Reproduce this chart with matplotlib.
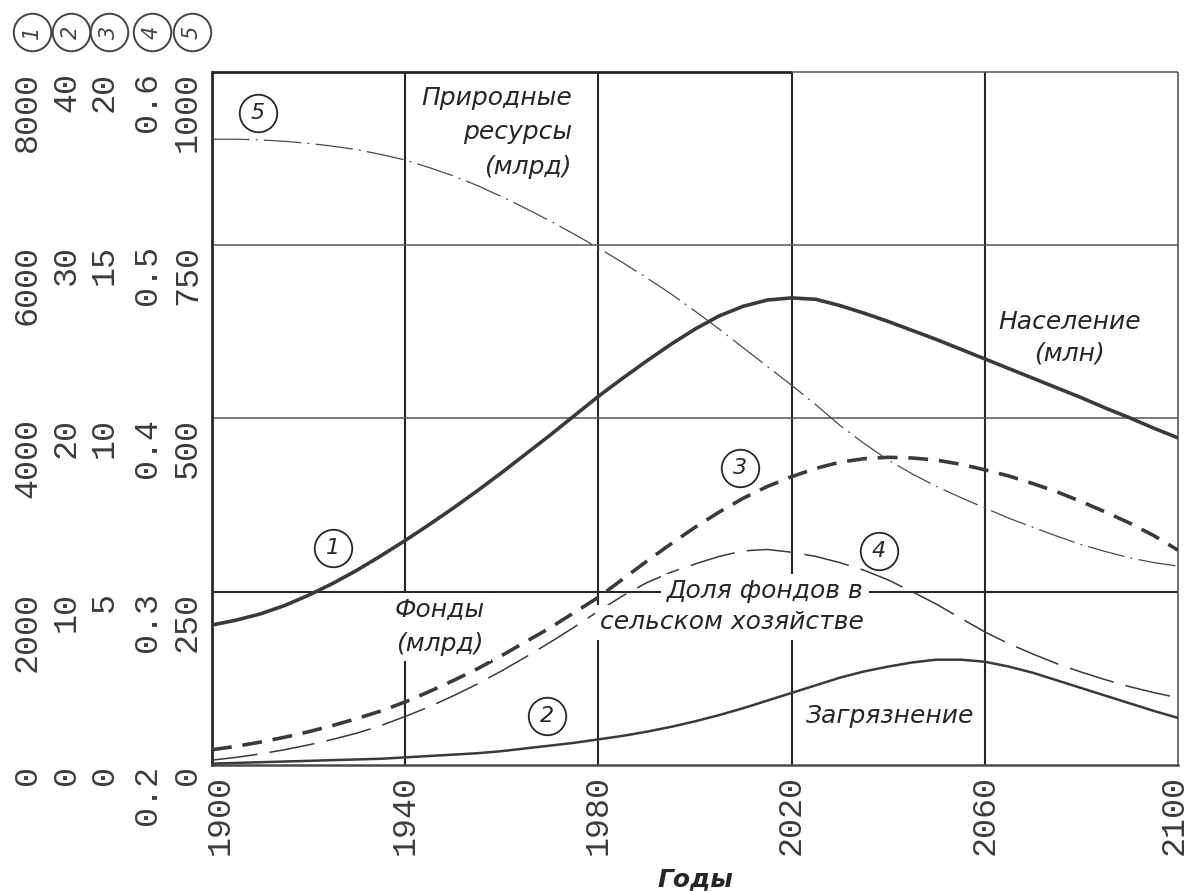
import matplotlib
matplotlib.use("Agg")
import matplotlib.pyplot as plt
import matplotlib.transforms as mtransforms
from matplotlib.lines import Line2D

# ---- data -----------------------------------------------------------------
years = list(range(1900, 2101, 5))

# (1) population, millions
population = [1616, 1672, 1744, 1840, 1960, 2096, 2248, 2416, 2592, 2776, 2968,
              3168, 3376, 3592, 3808, 4032, 4256, 4464, 4664, 4856, 5032,
              5184, 5296, 5368, 5392, 5376, 5304, 5216, 5120, 5016, 4912,
              4800, 4688, 4576, 4464, 4352, 4240, 4120, 4008, 3888, 3776]
# (2) pollution
pollution = [0.08, 0.12, 0.16, 0.20, 0.24, 0.28, 0.32, 0.36, 0.44, 0.52, 0.60,
             0.68, 0.80, 0.96, 1.12, 1.28, 1.48, 1.68, 1.92, 2.20, 2.52,
             2.88, 3.28, 3.72, 4.16, 4.60, 5.04, 5.40, 5.68, 5.92, 6.08,
             6.08, 5.96, 5.68, 5.32, 4.88, 4.44, 4.00, 3.56, 3.12, 2.72]
# (3) capital, billions
capital = [0.44, 0.54, 0.66, 0.80, 0.96, 1.14, 1.34, 1.56, 1.82, 2.12, 2.44,
           2.78, 3.16, 3.56, 3.96, 4.40, 4.84, 5.36, 5.88, 6.38, 6.86,
           7.30, 7.70, 8.04, 8.32, 8.56, 8.74, 8.84, 8.88, 8.86, 8.80,
           8.68, 8.52, 8.34, 8.12, 7.88, 7.60, 7.30, 6.98, 6.62, 6.20]
# (4) share of capital in agriculture
agri_share = [0.2028, 0.2044, 0.2064, 0.2088, 0.2116, 0.2148, 0.2184, 0.2228, 0.2280, 0.2336, 0.2400,
              0.2468, 0.2544, 0.2624, 0.2708, 0.2796, 0.2888, 0.2976, 0.3052, 0.3112, 0.3160,
              0.3204, 0.3236, 0.3244, 0.3228, 0.3204, 0.3168, 0.3124, 0.3068, 0.3000, 0.2928,
              0.2848, 0.2768, 0.2700, 0.2640, 0.2584, 0.2536, 0.2492, 0.2452, 0.2418, 0.2388]
# (5) natural resources, billions
resources = [903, 903, 902, 900, 897, 893, 888, 881, 873, 862, 850,
             836, 820, 803, 785, 766, 746, 725, 703, 680, 655,
             629, 602, 575, 548, 520, 490, 464, 440, 420, 402,
             386, 371, 356, 343, 330, 318, 308, 299, 292, 287]

year_ticks = [1900, 1940, 1980, 2020, 2060, 2100]
pop_ticks = [0, 2000, 4000, 6000, 8000]
poll_ticks = [0, 10, 20, 30, 40]
cap_ticks = [0, 5, 10, 15, 20]
share_ticks = [0.2, 0.3, 0.4, 0.5, 0.6]
share_tick_labels = ["0.2", "0.3", "0.4", "0.5", "0.6"]
res_ticks = [0, 250, 500, 750, 1000]

# ---- style ------------------------------------------------------------------
INK = "#262626"
TICK_INK = "#3c3c3c"
CURVE = "#3a3a3a"
GRID_LIGHT = "#555555"
MONO = "Liberation Mono"
SANS = "DejaVu Sans"
DPI = 100

fig = plt.figure(figsize=(11.9, 8.92), dpi=DPI)
fig.patch.set_facecolor("white")
ax = fig.add_axes([212 / 1190, 127 / 892, 966 / 1190, 693 / 892])
ax.set_xlim(1900, 2100)
ax.set_ylim(0, 1000)

# grid
for yr in year_ticks[1:-1]:
    ax.axvline(yr, color=INK, lw=1.5, zorder=1)
ax.axhline(250, color=INK, lw=1.5, zorder=1)
for v in (500, 750):
    ax.axhline(v, color=GRID_LIGHT, lw=1.1, zorder=1)

# frame
for side in ("top", "right"):
    ax.spines[side].set_visible(False)
ax.spines["left"].set_linewidth(2.0)
ax.spines["left"].set_color(INK)
ax.spines["bottom"].set_linewidth(1.8)
ax.spines["bottom"].set_color("#4a4a4a")
ax.hlines(1000, 1900, 2020, color=INK, lw=2.0, clip_on=False, zorder=3)
ax.hlines(1000, 2020, 2100, color=GRID_LIGHT, lw=1.1, clip_on=False, zorder=3)
ax.vlines(2100, 0, 1000, color=GRID_LIGHT, lw=1.2, clip_on=False, zorder=3)

# x axis
ax.set_xticks(year_ticks, [str(y) for y in year_ticks], rotation=90,
              fontfamily=MONO, fontsize=24, color=TICK_INK)
ax.tick_params(axis="x", length=0, pad=7)
# end labels nudged inwards: the first clears the zero labels, the last the edge
xlabels = ax.get_xticklabels()
for lab, dx in ((xlabels[0], 8), (xlabels[-1], -4)):
    lab.set_transform(lab.get_transform() +
                      mtransforms.ScaledTranslation(dx / DPI, 0, fig.dpi_scale_trans))
ax.set_xlabel("Годы", fontfamily=SANS, fontsize=18, fontstyle="italic",
              fontweight="bold", color=INK, labelpad=9)

# five vertical scales, stacked to the left of the plot
ax_pop = ax.twinx()
ax_poll = ax.twinx()
ax_cap = ax.twinx()
ax_share = ax.twinx()

scales = [
    (ax_pop, (0, 8000), pop_ticks, [str(t) for t in pop_ticks], 169),
    (ax_poll, (0, 40), poll_ticks, [str(t) for t in poll_ticks], 130),
    (ax_cap, (0, 20), cap_ticks, [str(t) for t in cap_ticks], 92),
    (ax_share, (0.2, 0.6), share_ticks, share_tick_labels, 49),
    (ax, (0, 1000), res_ticks, [str(t) for t in res_ticks], 9),
]
for a, lim, ticks, labels, off_px in scales:
    a.set_ylim(*lim)
    a.yaxis.tick_left()
    a.set_yticks(ticks, labels, rotation=90, va="top", ha="right",
                 fontfamily=MONO, fontsize=24, color=TICK_INK)
    a.tick_params(axis="y", length=0, pad=off_px * 72 / DPI)
    if a is not ax:
        for s in a.spines.values():
            s.set_visible(False)

# curves
ax_pop.plot(years, population, color=CURVE, lw=2.6, solid_capstyle="round",
            solid_joinstyle="round", zorder=3)
ax_poll.plot(years, pollution, color=CURVE, lw=1.8, solid_joinstyle="round", zorder=3)
ax_cap.plot(years, capital, color=CURVE, lw=2.6, dashes=(5.5, 3.0), zorder=3)
ax_share.plot(years, agri_share, color=CURVE, lw=1.1, dashes=(30, 8), zorder=3)
ax.plot(years, resources, color="#4a4a4a", lw=0.9, dashes=(30, 5, 1.5, 5), zorder=3)

# annotations (placed in year / resource-scale coordinates on the top layer)
top = ax_share
T = ax.transData
label_kw = dict(fontfamily=SANS, fontsize=18, fontstyle="italic", color=INK,
                transform=T, zorder=6)
box = dict(facecolor="white", edgecolor="none", pad=4)

top.text(1974.5, 980, "Природные\nресурсы\n(млрд)", ha="right", va="top",
         multialignment="right", linespacing=1.55, **label_kw)
top.text(2077.6, 616, "Население\n(млн)", ha="center", va="center",
         linespacing=1.4, **label_kw)
top.text(1947.2, 199, "Фонды\n(млрд)", ha="center", va="center",
         linespacing=1.5, bbox=box, **label_kw)
top.text(2014.5, 251, "Доля фондов в", ha="center", va="center", bbox=box, **label_kw)
top.text(2007.7, 206, "сельском хозяйстве", ha="center", va="center", bbox=box, **label_kw)
top.text(2040.4, 71, "Загрязнение", ha="center", va="center", **label_kw)

circled = [("5", 1909.5, 941), ("1", 1925, 313), ("3", 2009.3, 429),
           ("4", 2038, 309), ("2", 1969.4, 71)]
for num, x, y in circled:
    top.plot([x], [y], marker="o", ms=27, mfc="white", mec=INK, mew=1.3,
             transform=T, zorder=7, clip_on=False)
    top.text(x, y, num, ha="center", va="center", fontfamily=SANS, fontsize=16,
             fontstyle="italic", color=INK, transform=T, zorder=8)

# scale keys above the tick columns
for (a, lim, ticks, labels, off_px), num in zip(scales, "12345"):
    cx = 212 - off_px - 11
    cy = 892 - 32
    fig.add_artist(Line2D([cx / DPI], [cy / DPI], marker="o", ms=27, mfc="white",
                          mec="#444444", mew=1.4, transform=fig.dpi_scale_trans))
    fig.text(cx / DPI, cy / DPI, num, transform=fig.dpi_scale_trans, ha="center",
             va="center", rotation=90, fontfamily=SANS, fontsize=15,
             fontstyle="italic", color="#444444")

fig.savefig("out.png", dpi=DPI, facecolor="white")
